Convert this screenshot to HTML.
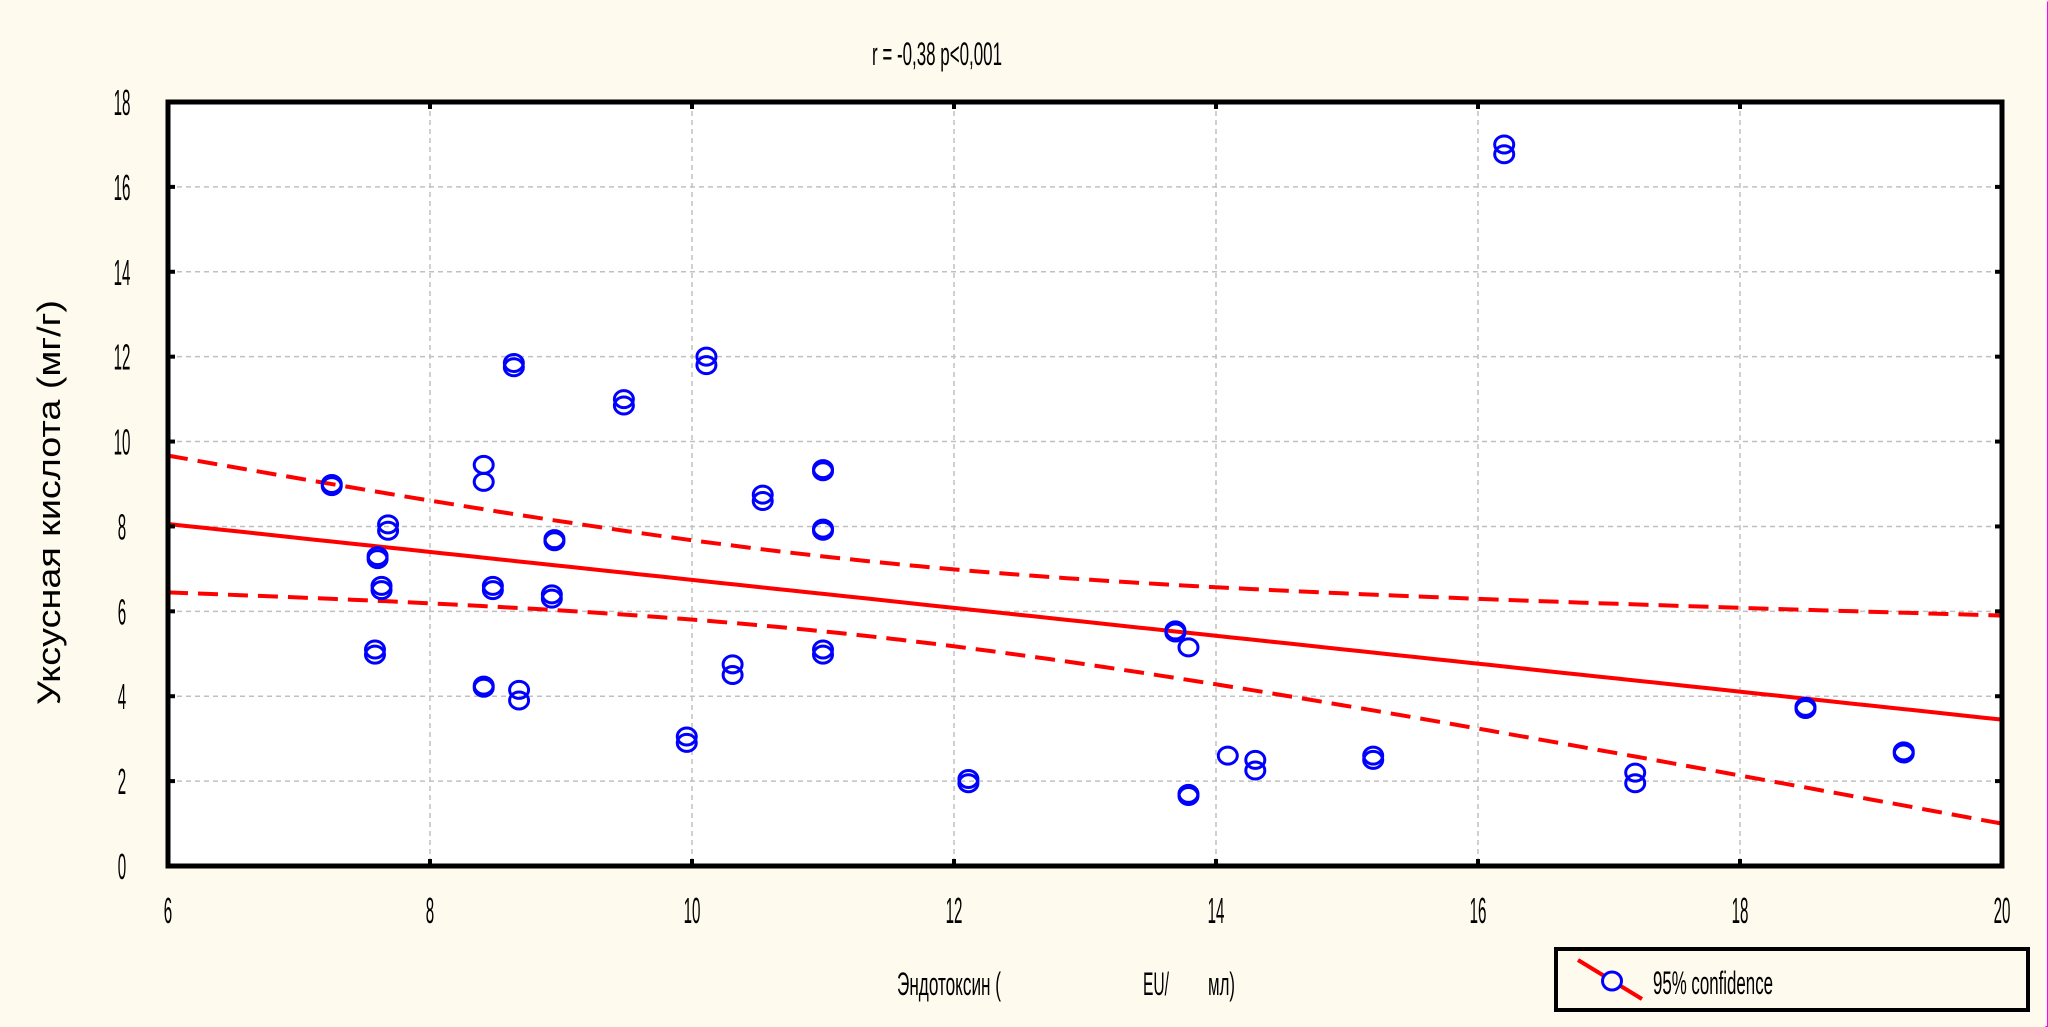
<!DOCTYPE html>
<html><head><meta charset="utf-8">
<style>
html,body{margin:0;padding:0;background:#fffaee;}
svg{display:block;}
text{font-family:"Liberation Sans",sans-serif;fill:#000;}
</style></head>
<body>
<svg id="chart" width="2048" height="1027" viewBox="0 0 2048 1027" xmlns="http://www.w3.org/2000/svg">
<rect x="0" y="0" width="2048" height="1027" fill="#fffaee"/>
<rect x="0.5" y="0.5" width="2047" height="1026" fill="none" stroke="#ff00ff" stroke-width="1" stroke-dasharray="0 2048 1027 0 0 3075" />
<rect x="168" y="102" width="1834" height="764" fill="#ffffff"/>
<g id="grid"></g>
<g id="bands"></g>
<g id="points"></g>
<rect x="168" y="102" width="1834" height="764" fill="none" stroke="#000" stroke-width="5"/>
<g id="ticks"></g>
<text x="872" y="65" font-size="32" textLength="130" lengthAdjust="spacingAndGlyphs">r = -0,38 p&lt;0,001</text>
<text x="0" y="0" font-size="32" textLength="405" lengthAdjust="spacingAndGlyphs" transform="translate(60,705) rotate(-90)" style="font-family:'Liberation Sans','Noto Sans CJK SC',sans-serif">Уксусная кислота (мг/г)</text>
<g font-size="32">
<text x="897" y="995" textLength="104" lengthAdjust="spacingAndGlyphs" style="font-family:'Liberation Sans','Noto Sans CJK SC',sans-serif">Эндотоксин (</text>
<text x="1143" y="995" textLength="26" lengthAdjust="spacingAndGlyphs">EU/</text>
<text x="1208" y="995" textLength="27" lengthAdjust="spacingAndGlyphs" style="font-family:'Liberation Sans','Noto Sans CJK SC',sans-serif">мл)</text>
</g>
<g>
<rect x="1556" y="949" width="472" height="61" fill="none" stroke="#000" stroke-width="4"/>
<line x1="1578" y1="960" x2="1642" y2="999" stroke="#ff0000" stroke-width="4"/>
<ellipse cx="1612" cy="981" rx="9.5" ry="9" fill="#fffaee" stroke="#0000ff" stroke-width="3"/>
<text x="1653" y="994" font-size="32" textLength="120" lengthAdjust="spacingAndGlyphs">95% confidence</text>
</g>
</svg>
<script>
const xs = [7.25,7.25,7.6,7.6,7.68,7.68,7.63,7.63,7.58,7.58,8.41,8.41,8.64,8.64,8.48,8.48,8.41,8.41,8.68,8.68,8.95,8.95,8.93,8.93,9.48,9.48,10.11,10.11,9.96,9.96,10.31,10.31,10.54,10.54,11.0,11.0,11.0,11.0,11.0,11.0,12.11,12.11,13.69,13.69,13.79,13.79,13.79,14.09,14.3,14.3,15.2,15.2,16.2,16.2,17.2,17.2,18.5,18.5,19.25,19.25];
const ys = [8.95,9.0,7.23,7.3,7.9,8.05,6.6,6.5,5.1,4.98,9.45,9.05,11.85,11.75,6.6,6.5,4.25,4.2,4.15,3.9,7.65,7.7,6.4,6.3,11.0,10.85,12.0,11.8,3.05,2.9,4.75,4.5,8.75,8.6,9.35,9.3,7.95,7.9,5.1,4.98,2.05,1.95,5.55,5.5,5.15,1.7,1.65,2.6,2.5,2.25,2.6,2.5,17.0,16.77,2.2,1.95,3.75,3.7,2.7,2.65];
const xTicks = [6,8,10,12,14,16,18,20];
const yTicks = [0,2,4,6,8,10,12,14,16,18];
const xMin=6,xMax=20,yMin=0,yMax=18;
const L=168,R=2002,T=102,B=866;
const sx=v=>L+(v-xMin)/(xMax-xMin)*(R-L);
const sy=v=>B-(v-yMin)/(yMax-yMin)*(B-T);
const NS='http://www.w3.org/2000/svg';
function mk(tag,attrs,parent){const e=document.createElementNS(NS,tag);for(const k in attrs)e.setAttribute(k,attrs[k]);parent.appendChild(e);return e;}
const grid=document.getElementById('grid'),ticks=document.getElementById('ticks');
xTicks.forEach(t=>{
  const x=sx(t);
  if(t!==xMin&&t!==xMax){const g=mk('line',{x1:x,y1:T,x2:x,y2:B,stroke:'#c0c0c0','stroke-width':1.5,'stroke-dasharray':'5 4'},grid);
  
  }
  const tk=mk('line',{x1:x,y1:B,x2:x,y2:B-7,stroke:'#000','stroke-width':4},ticks);
  
  
  const tk2=mk('line',{x1:x,y1:T,x2:x,y2:T+7,stroke:'#000','stroke-width':4},ticks);
  
  
  const lb=mk('text',{x:x,y:923,'font-size':36,'text-anchor':'middle',transform:`translate(${x},0) scale(0.42,1) translate(${-x},0)`},ticks);
  lb.textContent=t;
  
  
});
yTicks.forEach(t=>{
  const y=sy(t);
  if(t!==yMin&&t!==yMax){const g=mk('line',{x1:L,y1:y,x2:R,y2:y,stroke:'#c0c0c0','stroke-width':1.5,'stroke-dasharray':'5 4'},grid);
  
  }
  const tk=mk('line',{x1:L,y1:y,x2:L+7,y2:y,stroke:'#000','stroke-width':4},ticks);
  
  
  const tk2=mk('line',{x1:R,y1:y,x2:R-7,y2:y,stroke:'#000','stroke-width':4},ticks);
  
  
  const lb=mk('text',{x:122,y:y+13,'font-size':36,'text-anchor':'middle',transform:`translate(122,0) scale(0.42,1) translate(-122,0)`},ticks);
  lb.textContent=t;
  
  
});
// regression with 95% confidence band
const n=xs.length;
const mx=xs.reduce((a,b)=>a+b,0)/n,my=ys.reduce((a,b)=>a+b,0)/n;
let sxx=0,sxy=0;for(let i=0;i<n;i++){sxx+=(xs[i]-mx)**2;sxy+=(xs[i]-mx)*(ys[i]-my);}
const b1=sxy/sxx,b0=my-b1*mx;
let sse=0;for(let i=0;i<n;i++){sse+=(ys[i]-b0-b1*xs[i])**2;}
const s=Math.sqrt(sse/(n-2)),tcrit=2.0;
const bands=document.getElementById('bands');
function pathFor(fn){let d='';for(let k=0;k<=100;k++){const x=xMin+(xMax-xMin)*k/100;d+=(k?'L':'M')+sx(x).toFixed(1)+','+sy(fn(x)).toFixed(1);}return d;}
const se=x=>tcrit*s*Math.sqrt(1/n+(x-mx)**2/sxx);
const up=mk('path',{d:pathFor(x=>b0+b1*x+se(x)),fill:'none',stroke:'#ff0000','stroke-width':4,'stroke-dasharray':'20 10'},bands);


const lo=mk('path',{d:pathFor(x=>b0+b1*x-se(x)),fill:'none',stroke:'#ff0000','stroke-width':4,'stroke-dasharray':'20 10'},bands);


const fit=mk('path',{d:pathFor(x=>b0+b1*x),fill:'none',stroke:'#ff0000','stroke-width':4},bands);


const pts=document.getElementById('points');
for(let i=0;i<n;i++){
  const c=mk('ellipse',{cx:sx(xs[i]),cy:sy(ys[i]),rx:9.5,ry:8.5,fill:'none',stroke:'#0000ff','stroke-width':3},pts);
  
  
}
</script>
</body></html>
